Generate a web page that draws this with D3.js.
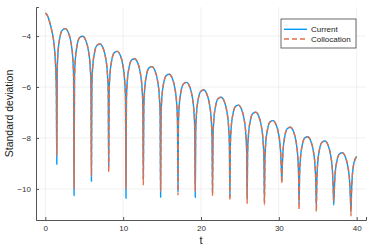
<!DOCTYPE html>
<meta charset="utf-8">
<script src="https://d3js.org/d3.v7.min.js"></script>
<style>
  body { margin: 0; background: #fff; }
  text { font-family: "Liberation Sans", Arial, sans-serif; }
</style>
<div id="chart"></div>
<script>

// sample times (shared by both series), one row per arch
var tValues = [
  0, 0.2, 0.4, 0.6, 0.8, 1.0, 1.15, 1.27, 1.36, 1.42,
  1.47, 1.53, 1.63, 1.87, 2.20, 2.58, 2.96, 3.29, 3.53, 3.63,
  3.69, 3.75, 3.85, 4.09, 4.42, 4.805, 5.19, 5.52, 5.76, 5.86,
  5.92, 5.98, 6.08, 6.32, 6.65, 7.03, 7.41, 7.74, 7.98, 8.08,
  8.14, 8.20, 8.30, 8.54, 8.87, 9.25, 9.63, 9.96, 10.20, 10.30,
  10.36, 10.42, 10.52, 10.76, 11.09, 11.475, 11.86, 12.19, 12.43, 12.53,
  12.59, 12.65, 12.75, 12.99, 13.32, 13.70, 14.08, 14.41, 14.65, 14.75,
  14.81, 14.87, 14.97, 15.21, 15.54, 15.925, 16.31, 16.64, 16.88, 16.98,
  17.04, 17.10, 17.20, 17.44, 17.77, 18.15, 18.53, 18.86, 19.10, 19.20,
  19.26, 19.32, 19.42, 19.66, 19.99, 20.37, 20.75, 21.08, 21.32, 21.42,
  21.48, 21.54, 21.64, 21.88, 22.21, 22.595, 22.98, 23.31, 23.55, 23.65,
  23.71, 23.77, 23.87, 24.11, 24.44, 24.82, 25.20, 25.53, 25.77, 25.87,
  25.93, 25.99, 26.09, 26.33, 26.66, 27.04, 27.42, 27.75, 27.99, 28.09,
  28.15, 28.21, 28.31, 28.55, 28.88, 29.265, 29.65, 29.98, 30.22, 30.32,
  30.38, 30.44, 30.54, 30.78, 31.11, 31.49, 31.87, 32.20, 32.44, 32.54,
  32.60, 32.66, 32.76, 33.00, 33.33, 33.71, 34.09, 34.42, 34.66, 34.76,
  34.82, 34.88, 34.98, 35.22, 35.55, 35.935, 36.32, 36.65, 36.89, 36.99,
  37.05, 37.11, 37.21, 37.45, 37.78, 38.16, 38.54, 38.87, 39.11, 39.21,
  39.27, 39.33, 39.43, 39.67, 40.0
];

var currentValues = [
  -3.10, -3.16, -3.30, -3.50, -3.75, -4.05, -4.40, -4.90, -5.50, -6.30,
  -9.03, -5.30, -4.63, -4.05, -3.76, -3.71, -3.87, -4.25, -4.89, -5.58,
  -10.26, -5.60, -4.93, -4.35, -4.06, -4.01, -4.17, -4.55, -5.19, -5.88,
  -9.70, -5.90, -5.23, -4.65, -4.36, -4.31, -4.47, -4.85, -5.49, -6.18,
  -9.10, -6.19, -5.52, -4.94, -4.65, -4.60, -4.76, -5.14, -5.78, -6.47,
  -10.37, -6.48, -5.81, -5.23, -4.94, -4.89, -5.05, -5.43, -6.07, -6.76,
  -9.60, -6.79, -6.12, -5.54, -5.25, -5.20, -5.36, -5.74, -6.38, -7.07,
  -10.33, -7.09, -6.42, -5.84, -5.55, -5.50, -5.66, -6.04, -6.68, -7.37,
  -10.10, -7.41, -6.74, -6.16, -5.87, -5.82, -5.98, -6.36, -7.00, -7.69,
  -10.33, -7.71, -7.04, -6.46, -6.17, -6.12, -6.28, -6.66, -7.30, -7.99,
  -10.10, -7.99, -7.32, -6.74, -6.45, -6.40, -6.56, -6.94, -7.58, -8.27,
  -10.30, -8.30, -7.63, -7.05, -6.76, -6.71, -6.87, -7.25, -7.89, -8.58,
  -10.40, -8.58, -7.91, -7.33, -7.04, -6.99, -7.15, -7.53, -8.17, -8.86,
  -10.50, -8.91, -8.24, -7.66, -7.37, -7.32, -7.48, -7.86, -8.50, -9.19,
  -9.70, -9.17, -8.50, -7.92, -7.63, -7.58, -7.74, -8.12, -8.76, -9.45,
  -10.60, -9.54, -8.87, -8.29, -8.00, -7.95, -8.11, -8.49, -9.13, -9.82,
  -10.70, -9.71, -9.04, -8.46, -8.17, -8.12, -8.28, -8.66, -9.30, -9.99,
  -10.63, -10.17, -9.50, -8.92, -8.63, -8.58, -8.74, -9.12, -9.76, -10.45,
  -10.90, -10.21, -9.54, -8.96, -8.73
];

var collocationValues = [
  -3.10, -3.16, -3.30, -3.50, -3.75, -4.05, -4.40, -4.90, -5.50, -6.30,
  -8.70, -5.30, -4.63, -4.05, -3.76, -3.71, -3.87, -4.25, -4.89, -5.58,
  -10.00, -5.60, -4.93, -4.35, -4.06, -4.01, -4.17, -4.55, -5.19, -5.88,
  -9.50, -5.90, -5.23, -4.65, -4.36, -4.31, -4.47, -4.85, -5.49, -6.18,
  -9.35, -6.19, -5.52, -4.94, -4.65, -4.60, -4.76, -5.14, -5.78, -6.47,
  -10.00, -6.48, -5.81, -5.23, -4.94, -4.89, -5.05, -5.43, -6.07, -6.76,
  -9.84, -6.79, -6.12, -5.54, -5.25, -5.20, -5.36, -5.74, -6.38, -7.07,
  -10.10, -7.09, -6.42, -5.84, -5.55, -5.50, -5.66, -6.04, -6.68, -7.37,
  -10.24, -7.41, -6.74, -6.16, -5.87, -5.82, -5.98, -6.36, -7.00, -7.69,
  -10.10, -7.71, -7.04, -6.46, -6.17, -6.12, -6.28, -6.66, -7.30, -7.99,
  -10.27, -7.99, -7.32, -6.74, -6.45, -6.40, -6.56, -6.94, -7.58, -8.27,
  -10.46, -8.30, -7.63, -7.05, -6.76, -6.71, -6.87, -7.25, -7.89, -8.58,
  -10.56, -8.58, -7.91, -7.33, -7.04, -6.99, -7.15, -7.53, -8.17, -8.86,
  -10.63, -8.91, -8.24, -7.66, -7.37, -7.32, -7.48, -7.86, -8.50, -9.19,
  -9.78, -9.17, -8.50, -7.92, -7.63, -7.58, -7.74, -8.12, -8.76, -9.45,
  -10.80, -9.54, -8.87, -8.29, -8.00, -7.95, -8.11, -8.49, -9.13, -9.82,
  -10.89, -9.71, -9.04, -8.46, -8.17, -8.12, -8.28, -8.66, -9.30, -9.99,
  -10.50, -10.17, -9.50, -8.92, -8.63, -8.58, -8.74, -9.12, -9.76, -10.45,
  -11.06, -10.21, -9.54, -8.96, -8.73
];

var seriesNames = ["Current", "Collocation"];
var xTicks = [0, 10, 20, 30, 40];
var yTicks = [-4, -6, -8, -10];

var W = 374, H = 249;
var plot = {left: 36, right: 366, top: 7, bottom: 220};

var svg = d3.select("#chart").append("svg")
    .attr("width", W)
    .attr("height", H);

var x = d3.scaleLinear().domain([-1.2, 41.2]).range([plot.left, plot.right]);
var y = d3.scaleLinear().domain([-11.22, -2.86]).range([plot.bottom, plot.top]);

// grid
svg.append("g").selectAll("line").data(xTicks).enter().append("line")
    .attr("x1", d => x(d)).attr("x2", d => x(d))
    .attr("y1", plot.top).attr("y2", plot.bottom)
    .attr("stroke", "#000").attr("stroke-opacity", 0.1).attr("stroke-width", 0.6);
svg.append("g").selectAll("line").data(yTicks).enter().append("line")
    .attr("x1", plot.left).attr("x2", plot.right)
    .attr("y1", d => y(d)).attr("y2", d => y(d))
    .attr("stroke", "#000").attr("stroke-opacity", 0.1).attr("stroke-width", 0.6);

// axes
var xAxis = svg.append("g")
    .attr("transform", "translate(0," + plot.bottom + ")")
    .call(d3.axisBottom(x).tickValues(xTicks).tickSize(-3).tickPadding(5).tickFormat(d3.format("d")));
var yAxis = svg.append("g")
    .attr("transform", "translate(" + plot.left + ",0)")
    .call(d3.axisLeft(y).tickValues(yTicks).tickSize(-3).tickPadding(5)
        .tickFormat(d => "\u2212" + Math.abs(d)));
[xAxis, yAxis].forEach(function (a) {
    a.select(".domain").attr("stroke", "#555").attr("stroke-width", 1);
    a.selectAll(".tick line").attr("stroke", "#555");
    a.selectAll(".tick text").attr("fill", "#333").attr("font-size", "8px")
        .attr("font-family", "Liberation Sans, Arial, sans-serif");
});

// axis titles
svg.append("text")
    .attr("x", (plot.left + plot.right) / 2).attr("y", 244)
    .attr("text-anchor", "middle").attr("font-size", "11px").attr("fill", "#222")
    .text("t");
svg.append("text")
    .attr("transform", "translate(13," + ((plot.top + plot.bottom) / 2) + ") rotate(-90)")
    .attr("text-anchor", "middle").attr("font-size", "10.5px").attr("fill", "#222")
    .text("Standard deviation");

// lines
var line = d3.line()
    .x(function (d, i) { return x(tValues[i]); })
    .y(function (d) { return y(d); })
    .curve(d3.curveMonotoneX);

svg.append("path")
    .datum(currentValues)
    .attr("fill", "none")
    .attr("stroke", "#009AFA")
    .attr("stroke-width", 1.4)
    .attr("d", line);

svg.append("path")
    .datum(collocationValues)
    .attr("fill", "none")
    .attr("stroke", "#E36F47")
    .attr("stroke-width", 1.4)
    .attr("stroke-dasharray", "5,3")
    .attr("d", line);

// legend
var lg = svg.append("g").attr("transform", "translate(281,19)");
lg.append("rect")
    .attr("width", 75).attr("height", 29)
    .attr("fill", "#fff").attr("stroke", "#444").attr("stroke-width", 0.8);
var colors = ["#009AFA", "#E36F47"];
var dashes = [null, "5,3"];
seriesNames.forEach(function (name, i) {
    var yy = 10.3 + i * 9.7;
    lg.append("line")
        .attr("x1", 3).attr("x2", 26).attr("y1", yy).attr("y2", yy)
        .attr("stroke", colors[i]).attr("stroke-width", 1.4)
        .attr("stroke-dasharray", dashes[i]);
    lg.append("text")
        .attr("x", 30).attr("y", yy + 3)
        .attr("font-size", "8px").attr("fill", "#222")
        .text(name);
});

</script>
